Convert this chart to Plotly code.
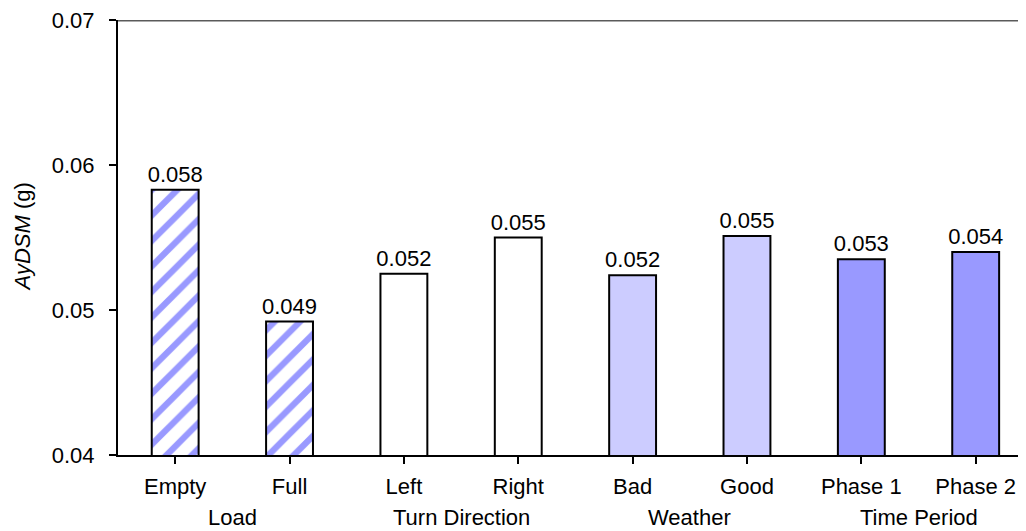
import plotly.graph_objects as go

categories = ["Empty", "Full", "Left", "Right", "Bad", "Good", "Phase 1", "Phase 2"]
values = [0.0583, 0.0492, 0.0525, 0.0550, 0.0524, 0.0551, 0.0535, 0.0540]
labels = ["0.058", "0.049", "0.052", "0.055", "0.052", "0.055", "0.053", "0.054"]
groups = ["Load", "Turn Direction", "Weather", "Time Period"]
y_ticks = [0.04, 0.05, 0.06, 0.07]

fill_colors = ["white", "white", "white", "white", "#ccccff", "#ccccff", "#9999ff", "#9999ff"]
pattern_shapes = ["/", "/", "", "", "", "", "", ""]

# page body has an 8px margin; compensate so the plot lands where the reference has it
OFF = 8
W, H = 1026 - OFF, 531 - OFF
L, T = 118 - OFF, 20 - OFF
AX_BOTTOM = 455.5 - OFF
B = H - AX_BOTTOM
plot_h = H - T - B
plot_w = W - L
FONT = "Liberation Sans, Arial"
FS = 22

x = list(range(len(categories)))

fig = go.Figure()
for i in range(len(categories)):
    pat = dict(shape=pattern_shapes[i], fgcolor="#9999ff", bgcolor="white",
               fillmode="replace", size=18, solidity=0.35) if pattern_shapes[i] else dict(shape="")
    fig.add_trace(go.Bar(
        x=[x[i]], y=[values[i]], width=0.41,
        marker=dict(color=fill_colors[i], line=dict(color="black", width=2), pattern=pat),
        text=[labels[i]], textposition="outside", cliponaxis=False, constraintext="none",
        textfont=dict(family=FONT, size=FS, color="black"),
    ))

fig.add_shape(type="line", xref="paper", yref="y", x0=0, x1=1, y0=0.07, y1=0.07,
              line=dict(color="#5a5a5a", width=3))

for i, g in enumerate(groups):
    fig.add_annotation(x=2 * i + 0.5, xref="x", y=-(518 - OFF - AX_BOTTOM) / plot_h, yref="paper",
                       text=g, showarrow=False, yanchor="middle",
                       font=dict(family=FONT, size=FS, color="black"))

fig.add_annotation(x=-(L - (22 - OFF)) / plot_w, xref="paper", y=0.5, yref="paper",
                   text="<i>AyDSM</i> (g)", textangle=-90, showarrow=False,
                   xanchor="center", yanchor="middle",
                   font=dict(family=FONT, size=FS, color="black"))

fig.update_layout(
    width=W, height=H,
    margin=dict(l=L, r=0, t=T, b=B),
    plot_bgcolor="white", paper_bgcolor="white",
    showlegend=False, barmode="overlay",
    font=dict(family=FONT, size=FS, color="black"),
    xaxis=dict(range=[-0.5, 7.44], tickmode="array", tickvals=x, ticktext=categories,
               tickson="boundaries", ticks="outside", ticklen=7, tickwidth=2, tickcolor="black",
               showline=True, linecolor="black", linewidth=2, showgrid=False, zeroline=False,
               ticklabelstandoff=4),
    yaxis=dict(range=[0.04, 0.0700001], tickmode="array", tickvals=y_ticks,
               ticktext=[f"{v:.2f}" for v in y_ticks], ticklabeloverflow="allow",
               ticks="outside", ticklen=7, tickwidth=2, tickcolor="black",
               showline=True, linecolor="black", linewidth=2, showgrid=False, zeroline=False,
               ticklabelstandoff=10),
)

fig.write_html("out.html")
